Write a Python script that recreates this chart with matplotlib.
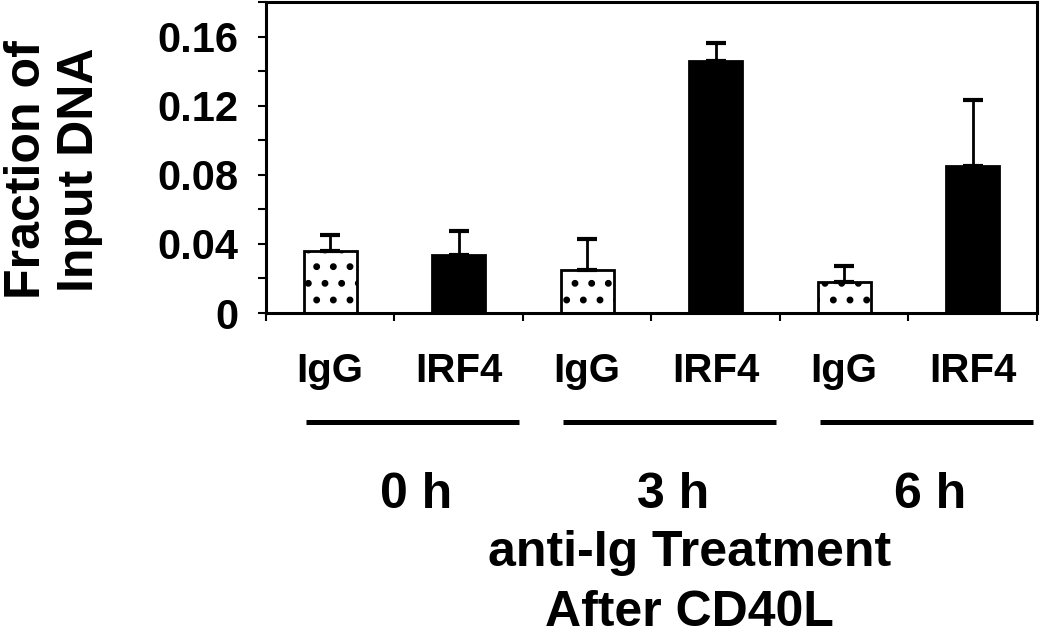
import matplotlib
matplotlib.use("Agg")
import matplotlib.pyplot as plt
import matplotlib.transforms as mtransforms
from matplotlib.ticker import MultipleLocator, FixedLocator

# data
labels = ["IgG", "IRF4", "IgG", "IRF4", "IgG", "IRF4"]
values = [0.036, 0.0335, 0.025, 0.146, 0.018, 0.085]
errors = [0.009, 0.014, 0.018, 0.0105, 0.0095, 0.038]
groups = ["0 h", "3 h", "6 h"]
xtitle = ["anti-Ig Treatment", "After CD40L"]

plt.rcParams["font.family"] = ["Liberation Sans", "DejaVu Sans"]
plt.rcParams["font.weight"] = "bold"
plt.rcParams["hatch.linewidth"] = 2.5

fig = plt.figure(figsize=(10.5, 6.37), dpi=100)
ax = fig.add_axes([0.2533, 0.5086, 0.7343, 0.4883])

xs = list(range(len(values)))
for i in xs:
    if labels[i] == "IgG":
        ax.bar(i, values[i], width=0.41, color="white", edgecolor="black",
               linewidth=2, hatch=".", zorder=2)
    else:
        ax.bar(i, values[i], width=0.41, color="black", edgecolor="black",
               linewidth=2, zorder=2)

ax.errorbar(xs, values, yerr=[[0] * len(values), errors], fmt="none",
            ecolor="black", elinewidth=2, capsize=7, capthick=3, zorder=3)

ax.set_xlim(-0.5, len(values) - 0.5)
ax.set_ylim(0, 0.18)

for sp in ax.spines.values():
    sp.set_linewidth(2.2)

ax.yaxis.set_major_locator(FixedLocator([0, 0.04, 0.08, 0.12, 0.16]))
ax.yaxis.set_minor_locator(MultipleLocator(0.02))
ax.set_yticklabels(["0", "0.04", "0.08", "0.12", "0.16"])
ax.tick_params(axis="y", which="both", direction="out", length=6, width=1.5,
               labelsize=30, pad=14)

ax.xaxis.set_major_locator(FixedLocator([x - 0.5 for x in range(len(values) + 1)]))
ax.set_xticklabels([])
ax.tick_params(axis="x", which="major", direction="out", length=6, width=1.5)

# labels below the axis
tr = mtransforms.blended_transform_factory(ax.transData, fig.transFigure)
for i in xs:
    ax.text(i, 0.4003, labels[i], transform=tr, ha="center", va="baseline",
            fontsize=29, fontweight="bold")

for g, name in enumerate(groups):
    ax.plot([2 * g - 0.19, 2 * g + 1.47], [0.3375, 0.3375], transform=tr,
            color="black", lw=3.6, solid_capstyle="butt", clip_on=False)
    ax.text(2 * g + 0.67, 0.2025, name, transform=tr, ha="center",
            va="baseline", fontsize=36, fontweight="bold")

fig.text(0.657, 0.112, xtitle[0], ha="center", va="baseline", fontsize=36,
         fontweight="bold")
fig.text(0.657, 0.018, xtitle[1], ha="center", va="baseline", fontsize=36,
         fontweight="bold")

fig.text(0.051, 0.733, "Fraction of\nInput DNA", rotation=90, ha="center",
         va="center", fontsize=36, fontweight="bold", linespacing=1.2)

fig.savefig("out.png", dpi=100)
